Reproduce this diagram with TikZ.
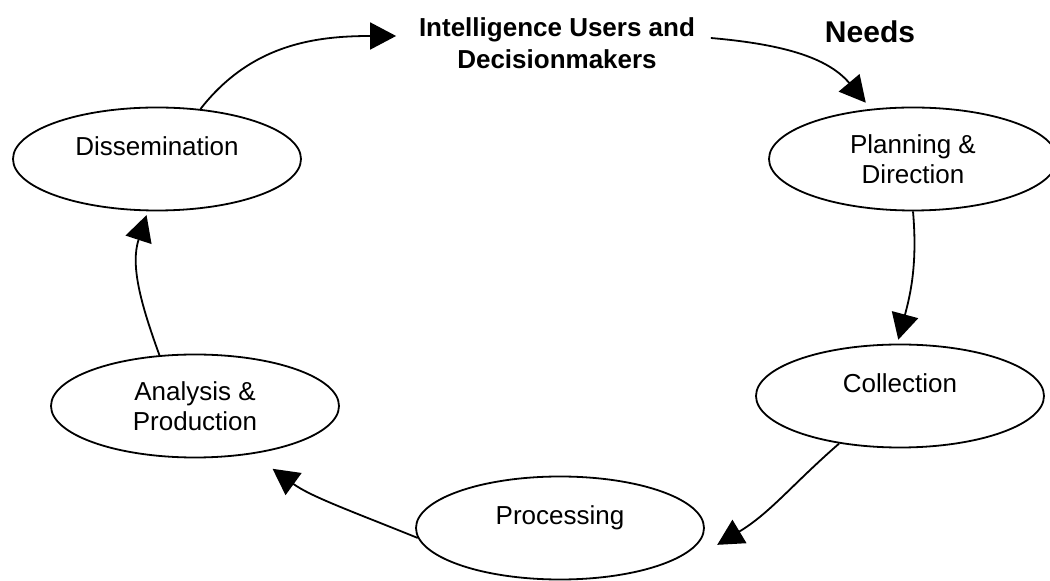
\documentclass[tikz,border=0pt]{standalone}
\usepackage{fontspec}
\setmainfont{Liberation Sans}
\usepackage{tikz}
\usetikzlibrary{arrows.meta}
\usetikzlibrary{shapes.geometric}

\begin{document}
\begin{tikzpicture}[x=1pt,y=1pt,line width=1.8pt,
        stage/.style={ellipse,draw,minimum width=288pt,minimum height=103pt,inner sep=0pt,align=center,font=\fontsize{26}{30}\selectfont},
        oneline/.style={text height=19pt,text depth=26pt},
        flow/.style={-{Triangle[length=26pt,width=27pt]}}]
        \useasboundingbox (0,0) rectangle (1050,581);

        \node [font=\bfseries\fontsize{26}{32}\selectfont,align=center,inner sep=0pt] (users) at (557,538) {Intelligence Users and\\Decisionmakers};
        \node [font=\bfseries\fontsize{30}{36}\selectfont] (needs) at (870,549) {Needs};

        \node [stage,oneline] (dis) at (157,422) {Dissemination};
        \node [stage] (plan) at (913,422) {Planning \&\\Direction};
        \node [stage,oneline] (col) at (900,185) {Collection};
        \node [stage,oneline] (proc) at (560,53) {Processing};
        \node [stage] (ana) at (195,175) {Analysis \&\\Production};

        \draw [flow] (dis.49) to [out=52,in=180] ([shift={(-22,7)}]users.west);
        \draw [flow,shorten >=8pt] ([shift={(15,5)}]users.east) to [out=-5,in=130] (plan.130);
        \draw [flow,shorten >=4pt] (plan.south) to [out=-85,in=75] (col.93);
        \draw [flow] (col.218) to [out=221,in=31] ([xshift=20pt]proc.-7);
        \draw [flow,shorten >=25pt] (proc.184) to [out=158,in=-36] (ana.-40);
        \draw [flow,shorten >=4pt] (ana.125) to [out=110,in=-108] (dis.-100);
    \end{tikzpicture}
\end{document}
